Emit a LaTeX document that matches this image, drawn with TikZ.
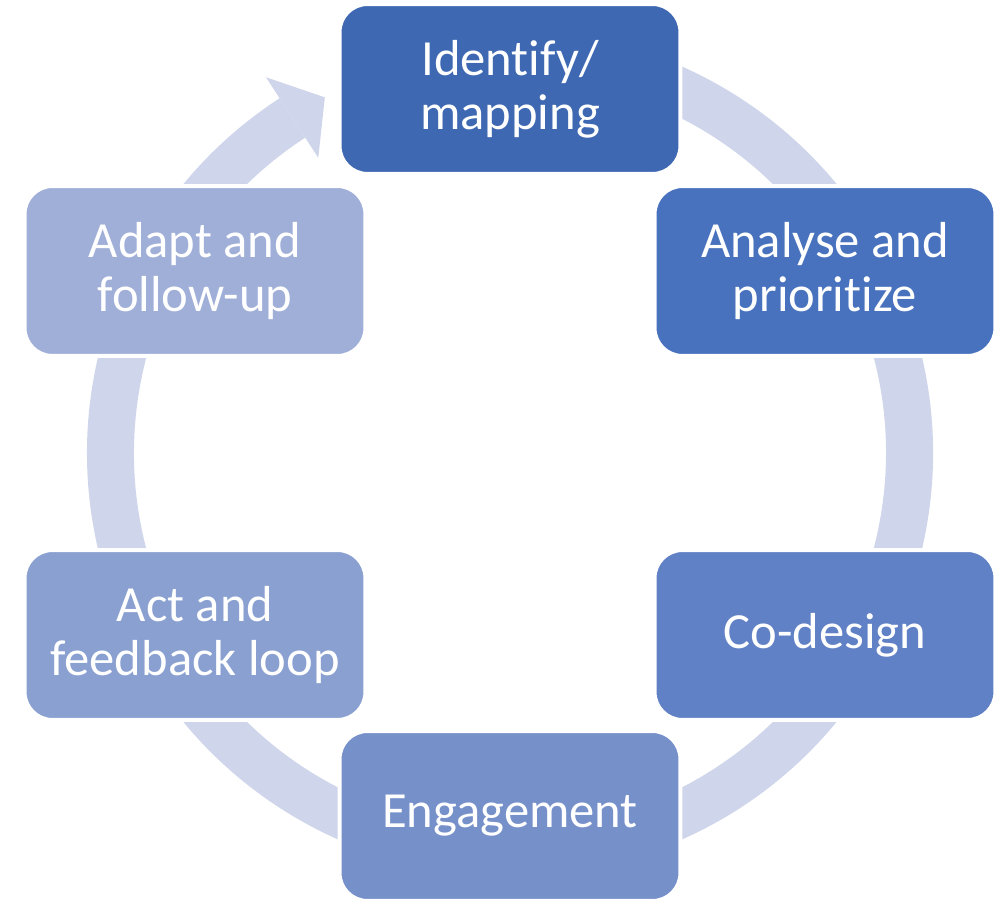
\documentclass[tikz,border=0pt]{standalone}
\usepackage{fontspec}
\setmainfont[Ligatures=NoCommon]{Carlito}
\definecolor{ringc}{HTML}{CFD5EA}
\definecolor{cA}{HTML}{3E68B2}
\definecolor{cB}{HTML}{4872BE}
\definecolor{cC}{HTML}{6081C5}
\definecolor{cD}{HTML}{7690CA}
\definecolor{cE}{HTML}{89A0D1}
\definecolor{cF}{HTML}{A0AFD8}
\begin{document}
\begin{tikzpicture}[x=0.02cm,y=0.02cm,
  stage/.style={rounded corners=0.56cm, draw=white, line width=0.08cm,
    minimum width=6.82cm, minimum height=3.40cm, inner sep=0pt,
    text=white, align=center, font=\fontsize{28.8}{30.8}\selectfont},
  ringfill/.style={fill=ringc}]
\useasboundingbox (-510,-446) rectangle (492,453);
% ring
\fill[ringfill] (110:423) arc[start angle=110, end angle=-237, radius=423]
  -- (-237:376) arc[start angle=-237, end angle=110, radius=376] -- cycle;
% arrow head
\fill[ringfill] (123:448) -- (117.5:401) -- (123:352) -- cycle;
% stages
\node[stage, fill=cA] (s1) at (0,364) {Identify/\\mapping};
\node[stage, fill=cB] (s2) at (315,182) {Analyse and\\prioritize};
\node[stage, fill=cC] (s3) at (315,-182) {Co-design};
\node[stage, fill=cD] (s4) at (0,-363) {Engagement};
\node[stage, fill=cE] (s5) at (-315,-182) {Act and\\feedback loop};
\node[stage, fill=cF] (s6) at (-315,182) {Adapt and\\follow-up};
\end{tikzpicture}
\end{document}
